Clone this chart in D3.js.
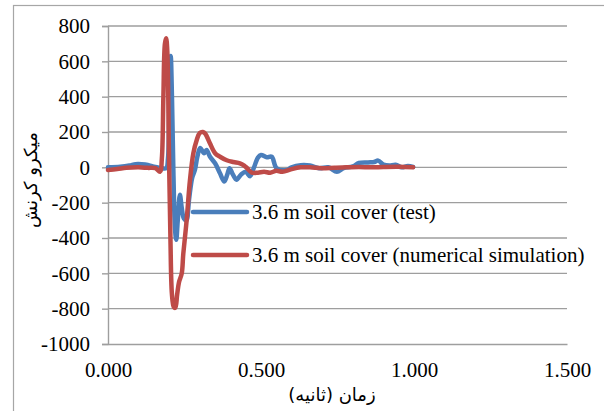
<!DOCTYPE html>
<html>
<head>
<meta charset="utf-8">
<script src="https://cdn.jsdelivr.net/npm/d3@7"></script>
<style>
html,body{margin:0;padding:0;background:#fff;}
svg{display:block;}
</style>
</head>
<body>
<svg id="chart" width="604" height="411"></svg>
<script>
// ---- Data ----
const xTicks = [0, 0.5, 1.0, 1.5];
const yTicks = [800, 600, 400, 200, 0, -200, -400, -600, -800, -1000];

const testTime = [0.000,0.040,0.070,0.090,0.110,0.130,0.150,0.170,0.190,0.196,0.201,0.205,0.209,0.214,0.219,0.223,0.228,0.235,0.241,0.248,0.256,0.265,0.275,0.284,0.292,0.301,0.314,0.322,0.333,0.350,0.366,0.380,0.390,0.397,0.408,0.420,0.435,0.450,0.464,0.475,0.490,0.500,0.519,0.535,0.551,0.584,0.600,0.630,0.660,0.690,0.720,0.748,0.770,0.800,0.820,0.850,0.870,0.883,0.900,0.920,0.940,0.960,0.980,0.997];
const testStrain = [0,3,10,18,18,14,3,-3,-5,50,450,630,400,-50,-350,-410,-300,-155,-230,-290,-300,-180,-60,-15,60,110,80,98,61,23,-34,-80,-40,-5,-40,-70,-40,-25,-50,-10,55,70,57,60,-5,-15,0,12,10,-5,0,-25,-5,5,25,28,30,38,15,10,15,0,8,2];

const simTime = [0.000,0.030,0.060,0.100,0.130,0.155,0.170,0.176,0.181,0.186,0.190,0.194,0.199,0.204,0.209,0.215,0.220,0.226,0.232,0.241,0.246,0.257,0.268,0.279,0.290,0.300,0.310,0.318,0.333,0.350,0.366,0.388,0.410,0.431,0.445,0.455,0.470,0.490,0.510,0.530,0.550,0.570,0.600,0.630,0.660,0.700,0.740,0.780,0.820,0.860,0.900,0.950,0.997];
const simStrain = [-15,-10,-3,0,-3,-5,-25,50,400,700,730,650,100,-400,-720,-790,-795,-720,-650,-600,-490,-300,-70,80,155,195,200,190,136,80,60,40,30,23,10,-5,-30,-30,-25,-30,-20,-25,-10,0,0,-5,-2,0,2,0,2,3,0];

const seriesNames = ["3.6 m soil cover (test)", "3.6 m soil cover (numerical simulation)"];
const seriesColors = ["#4a7ebb", "#be4b48"];
const xTitle = "زمان (ثانیه)";
const yTitle = "میکرو کرنش";

// ---- Layout ----
const svg = d3.select("#chart");
const x = d3.scaleLinear().domain([0, 1.5]).range([108, 567]);
const y = d3.scaleLinear().domain([-1000, 800]).range([344, 26]);
const serif = "'Liberation Serif','Times New Roman',serif";
const arabic = "'DejaVu Sans','Noto Sans',sans-serif";

// outer border
svg.append("rect").attr("x", 13.5).attr("y", 5.5).attr("width", 620).attr("height", 430)
  .attr("fill", "none").attr("stroke", "#a6a6a6").attr("stroke-width", 1.2);

// gridlines
svg.append("g").selectAll("line").data(yTicks.filter(d => d !== -1000)).join("line")
  .attr("x1", x(0)).attr("x2", x(1.5))
  .attr("y1", d => y(d)).attr("y2", d => y(d))
  .attr("stroke", "#9e9e9e").attr("stroke-width", 1.4);

// y axis
const yAxis = svg.append("g").attr("transform", `translate(${x(0)},0)`)
  .call(d3.axisLeft(y).tickValues(yTicks).tickSize(6).tickPadding(12).tickFormat(d => String(d)));
yAxis.attr("font-family", serif).attr("font-size", 21);
yAxis.select(".domain").attr("stroke", "#9e9e9e").attr("stroke-width", 1.4);
yAxis.selectAll(".tick line").attr("stroke", "#9e9e9e").attr("stroke-width", 1.4);
yAxis.selectAll(".tick text").style("font-family", serif).style("font-size", "21px").attr("fill", "#000");

// x axis
const xAxis = svg.append("g").attr("transform", `translate(0,${y(-1000)})`)
  .call(d3.axisBottom(x).tickValues(xTicks).tickSize(0).tickPadding(18).tickFormat(d3.format(".3f")));
xAxis.attr("font-family", serif).attr("font-size", 21);
xAxis.select(".domain").attr("stroke", "#9e9e9e").attr("stroke-width", 1.4);
xAxis.selectAll(".tick text").style("font-family", serif).style("font-size", "21px").attr("fill", "#000");

// axis titles
svg.append("text").attr("x", 332).attr("y", 401).attr("text-anchor", "middle")
  .style("font-family", arabic).style("font-size", "18px").attr("direction", "rtl")
  .text(xTitle);
svg.append("text").attr("transform", "translate(37,180) rotate(-90)").attr("text-anchor", "middle")
  .style("font-family", arabic).style("font-size", "18px").attr("direction", "rtl")
  .text(yTitle);

// series
const line = d3.line().x(d => x(d[0])).y(d => y(d[1])).curve(d3.curveCatmullRom.alpha(0.5));
const series = [d3.zip(testTime, testStrain), d3.zip(simTime, simStrain)];

// legend (no background box)
const legY = [212, 255];
const leg = svg.append("g");
seriesNames.forEach((name, i) => {
  leg.append("line").attr("x1", 193).attr("x2", 247).attr("y1", legY[i]).attr("y2", legY[i])
    .attr("stroke", seriesColors[i]).attr("stroke-width", 4.5).attr("stroke-linecap", "round");
  leg.append("text").attr("x", 252).attr("y", legY[i]).attr("dy", "0.35em")
    .style("font-family", serif).style("font-size", "21px").attr("fill", "#000").text(name);
});

series.forEach((s, i) => {
  svg.append("path").datum(s).attr("d", line).attr("fill", "none")
    .attr("stroke", seriesColors[i]).attr("stroke-width", 4.5)
    .attr("stroke-linejoin", "round").attr("stroke-linecap", "round");
});
</script>
</body>
</html>
